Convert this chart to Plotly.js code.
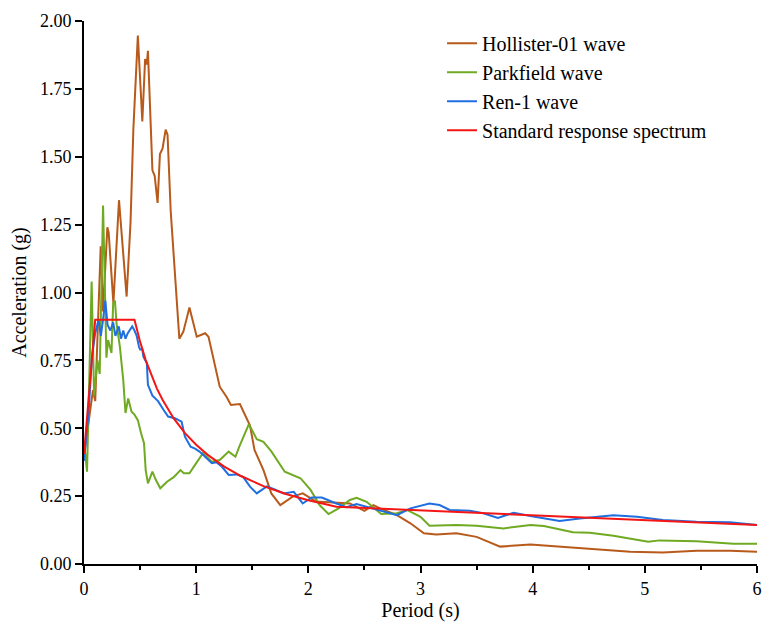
<!DOCTYPE html>
<html>
<head>
<meta charset="utf-8">
<script src="https://cdn.plot.ly/plotly-3.0.1.min.js"></script>
<style>html,body{margin:0;padding:0;background:#fff;}#chart{width:766px;height:629px;}</style>
</head>
<body>
<div id="chart"></div>
<script>
// Hollister-01 wave
const hollisterT = [0, 0.05, 0.08, 0.10, 0.149, 0.17, 0.208, 0.22, 0.262, 0.312, 0.33, 0.38, 0.415, 0.44, 0.48, 0.52, 0.545, 0.56, 0.57, 0.61, 0.63, 0.656, 0.677, 0.70, 0.728, 0.745, 0.773, 0.85, 0.885, 0.94, 1.005, 1.08, 1.11, 1.21, 1.27, 1.31, 1.39, 1.48, 1.52, 1.60, 1.67, 1.75, 1.86, 1.95, 2.07, 2.25, 2.37, 2.50, 2.58, 2.64, 2.79, 2.91, 3.03, 3.14, 3.32, 3.50, 3.71, 3.98, 4.42, 4.87, 5.16, 5.46, 5.76, 6.0];
const hollisterA = [0.40, 0.55, 0.64, 0.60, 1.17, 0.93, 1.24, 1.22, 0.96, 1.34, 1.24, 0.985, 1.26, 1.60, 1.946, 1.63, 1.86, 1.84, 1.89, 1.45, 1.43, 1.33, 1.51, 1.53, 1.60, 1.58, 1.30, 0.83, 0.855, 0.945, 0.837, 0.85, 0.837, 0.653, 0.616, 0.586, 0.589, 0.51, 0.42, 0.346, 0.26, 0.217, 0.248, 0.26, 0.23, 0.227, 0.223, 0.196, 0.217, 0.205, 0.18, 0.15, 0.113, 0.109, 0.113, 0.10, 0.064, 0.072, 0.058, 0.045, 0.042, 0.049, 0.049, 0.045];

// Parkfield wave
const parkfieldT = [0, 0.027, 0.068, 0.09, 0.12, 0.14, 0.17, 0.186, 0.20, 0.215, 0.245, 0.26, 0.276, 0.29, 0.32, 0.35, 0.37, 0.394, 0.424, 0.45, 0.48, 0.51, 0.535, 0.55, 0.57, 0.61, 0.64, 0.68, 0.74, 0.80, 0.86, 0.89, 0.94, 0.99, 1.06, 1.14, 1.21, 1.29, 1.35, 1.39, 1.47, 1.54, 1.60, 1.67, 1.79, 1.93, 2.02, 2.10, 2.18, 2.27, 2.37, 2.43, 2.52, 2.65, 2.79, 2.88, 3.00, 3.08, 3.32, 3.50, 3.74, 3.98, 4.10, 4.36, 4.51, 4.72, 5.03, 5.13, 5.46, 5.79, 6.0];
const parkfieldA = [0.45, 0.34, 1.04, 0.62, 0.75, 0.70, 1.32, 0.97, 0.76, 0.825, 0.777, 0.96, 0.97, 0.886, 0.80, 0.677, 0.556, 0.61, 0.561, 0.55, 0.53, 0.48, 0.445, 0.346, 0.297, 0.34, 0.31, 0.279, 0.303, 0.32, 0.346, 0.334, 0.334, 0.365, 0.408, 0.377, 0.383, 0.414, 0.395, 0.438, 0.515, 0.46, 0.45, 0.415, 0.34, 0.316, 0.273, 0.217, 0.184, 0.205, 0.236, 0.244, 0.229, 0.184, 0.187, 0.199, 0.174, 0.141, 0.144, 0.141, 0.131, 0.144, 0.14, 0.117, 0.115, 0.104, 0.082, 0.087, 0.084, 0.075, 0.075];

// Ren-1 wave
const renT = [0, 0.01, 0.04, 0.07, 0.10, 0.13, 0.15, 0.17, 0.19, 0.21, 0.235, 0.26, 0.28, 0.31, 0.33, 0.35, 0.37, 0.39, 0.43, 0.45, 0.47, 0.49, 0.50, 0.52, 0.53, 0.56, 0.57, 0.61, 0.66, 0.71, 0.75, 0.81, 0.87, 0.90, 0.95, 0.99, 1.03, 1.08, 1.14, 1.18, 1.23, 1.29, 1.36, 1.42, 1.48, 1.54, 1.63, 1.70, 1.78, 1.87, 1.95, 2.03, 2.12, 2.25, 2.34, 2.43, 2.58, 2.79, 2.91, 3.08, 3.17, 3.26, 3.44, 3.56, 3.69, 3.83, 3.98, 4.24, 4.42, 4.72, 4.93, 5.16, 5.46, 5.76, 6.0];
const renA = [0.38, 0.42, 0.55, 0.76, 0.85, 0.90, 0.84, 0.90, 0.97, 0.88, 0.86, 0.89, 0.84, 0.875, 0.83, 0.86, 0.83, 0.85, 0.875, 0.86, 0.84, 0.80, 0.79, 0.79, 0.763, 0.74, 0.66, 0.62, 0.60, 0.567, 0.543, 0.537, 0.524, 0.469, 0.432, 0.425, 0.414, 0.395, 0.371, 0.375, 0.358, 0.328, 0.33, 0.32, 0.285, 0.26, 0.286, 0.275, 0.26, 0.266, 0.223, 0.245, 0.245, 0.223, 0.209, 0.221, 0.205, 0.18, 0.205, 0.223, 0.217, 0.199, 0.196, 0.187, 0.17, 0.189, 0.177, 0.158, 0.168, 0.18, 0.174, 0.162, 0.156, 0.154, 0.144];

// Standard response spectrum
const standardT = [0, 0.10, 0.45, 0.50, 0.55, 0.60, 0.65, 0.70, 0.75, 0.80, 0.90, 1.00, 1.10, 1.20, 1.25, 1.40, 1.50, 1.60, 1.75, 1.80, 2.00, 2.10, 2.25, 6.0];
const standardA = [0.405, 0.90, 0.90, 0.819, 0.751, 0.695, 0.646, 0.605, 0.568, 0.536, 0.482, 0.439, 0.403, 0.372, 0.359, 0.324, 0.305, 0.287, 0.265, 0.258, 0.235, 0.225, 0.211, 0.1435];

const seriesNames = ["Hollister-01 wave", "Parkfield wave", "Ren-1 wave", "Standard response spectrum"];
const seriesColors = ["#B85A1B", "#6FAA22", "#1F6FE0", "#F41515"];
const xs = [hollisterT, parkfieldT, renT, standardT];
const ys = [hollisterA, parkfieldA, renA, standardA];

const traces = seriesNames.map((n, i) => ({
  x: xs[i], y: ys[i], name: n, type: "scatter", mode: "lines",
  line: {color: seriesColors[i], width: 2}
}));

const layout = {
  width: 766, height: 629,
  margin: {l: 84, r: 9, t: 21, b: 65},
  paper_bgcolor: "#fff", plot_bgcolor: "#fff",
  font: {family: "Liberation Serif", size: 18, color: "#000"},
  showlegend: true,
  legend: {x: 0.532, y: 0.995, xanchor: "left", yanchor: "top", bgcolor: "rgba(0,0,0,0)",
           font: {family: "Liberation Serif", size: 20}, tracegroupgap: 0},
  xaxis: {
    range: [0, 6], dtick: 1, tick0: 0, showgrid: false, zeroline: false,
    showline: true, linecolor: "#000", linewidth: 2,
    ticks: "outside", ticklen: 7, tickwidth: 2, tickcolor: "#000",
    minor: {dtick: 0.5, ticks: "outside", ticklen: 4, tickwidth: 2, tickcolor: "#000", showgrid: false},
    title: {text: "Period (s)", font: {family: "Liberation Serif", size: 20}, standoff: 1}
  },
  yaxis: {
    range: [0, 2], dtick: 0.25, tick0: 0, tickformat: ".2f", showgrid: false, zeroline: false,
    showline: true, linecolor: "#000", linewidth: 2,
    ticks: "outside", ticklen: 7, tickwidth: 2, tickcolor: "#000",
    title: {text: "Acceleration (g)", font: {family: "Liberation Serif", size: 20}, standoff: 8}
  }
};

Plotly.newPlot("chart", traces, layout, {displayModeBar: false});
</script>
</body>
</html>
